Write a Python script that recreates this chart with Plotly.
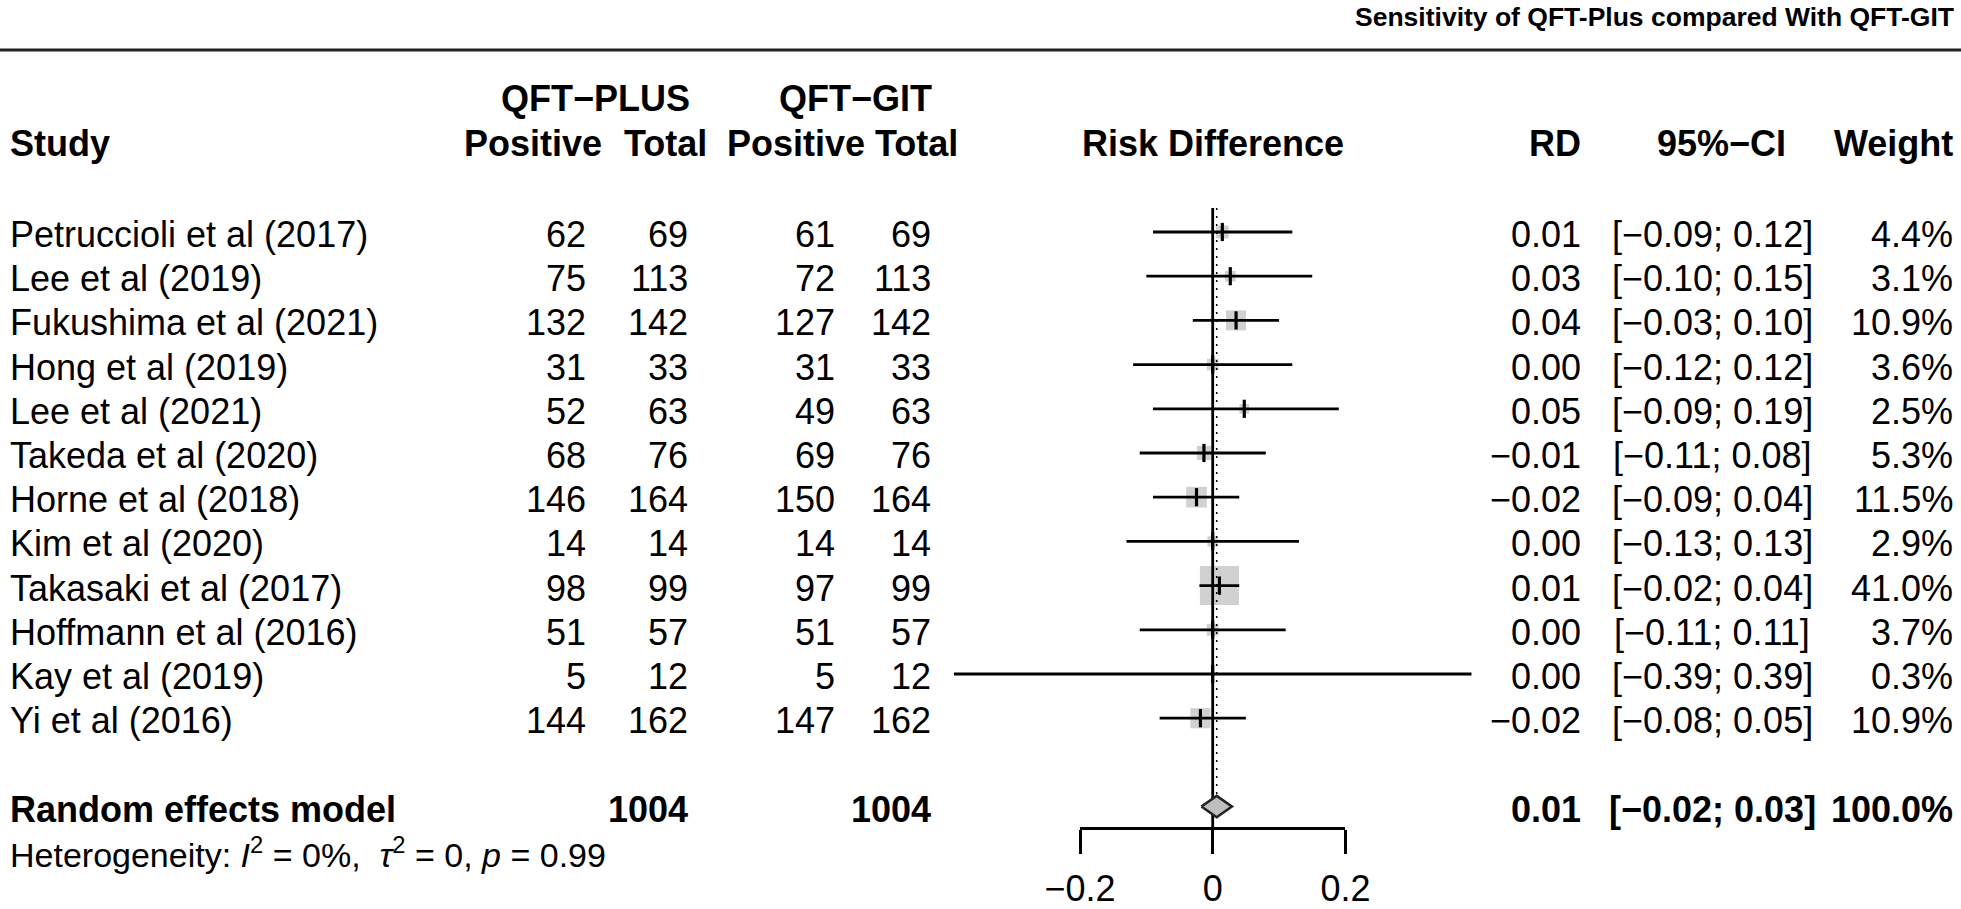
import math
import plotly.graph_objects as go

# ---------------- data ----------------
studies = ["Petruccioli et al (2017)", "Lee et al (2019)", "Fukushima et al (2021)",
           "Hong et al (2019)", "Lee et al (2021)", "Takeda et al (2020)",
           "Horne et al (2018)", "Kim et al (2020)", "Takasaki et al (2017)",
           "Hoffmann et al (2016)", "Kay et al (2019)", "Yi et al (2016)"]
plus_pos = [62, 75, 132, 31, 52, 68, 146, 14, 98, 51, 5, 144]
plus_tot = [69, 113, 142, 33, 63, 76, 164, 14, 99, 57, 12, 162]
git_pos = [61, 72, 127, 31, 49, 69, 150, 14, 97, 51, 5, 147]
git_tot = [69, 113, 142, 33, 63, 76, 164, 14, 99, 57, 12, 162]
rd = [0.0145, 0.0265, 0.0352, 0.0, 0.0476, -0.0132, -0.0244, 0.0, 0.0101, 0.0, 0.0, -0.0185]
ci_lo = [-0.09, -0.10, -0.03, -0.12, -0.09, -0.11, -0.09, -0.13, -0.02, -0.11, -0.39, -0.08]
ci_hi = [0.12, 0.15, 0.10, 0.12, 0.19, 0.08, 0.04, 0.13, 0.04, 0.11, 0.39, 0.05]
weights = [4.4, 3.1, 10.9, 3.6, 2.5, 5.3, 11.5, 2.9, 41.0, 3.7, 0.3, 10.9]

summary_label = "Random effects model"
summary_plus_tot = 1004
summary_git_tot = 1004
summary_rd = 0.006
summary_lo = -0.017
summary_hi = 0.029
summary_weight = 100.0

tick_vals = [-0.2, 0, 0.2]
tick_text = ["\u22120.2", "0", "0.2"]

title_text = "Sensitivity of QFT-Plus compared With QFT-GIT"
het_text = ("Heterogeneity: <i>I</i><sup>2</sup> = 0%,  <i>\u03c4</i><sup>2</sup> = 0, "
            "<i>p</i> = 0.99")

# ---------------- layout helpers ----------------
W, H = 1961, 909
FONT = "Liberation Sans, Arial, Helvetica, sans-serif"
FS = 36
ROW0_PX, ROW_PX = 232.0, 44.2
ZERO_PX, PX_PER_UNIT = 1212.7, 663.5
GRAY = "#BEBEBE"


def ypx(px):
    return (px - ROW0_PX) / ROW_PX


def xp(px):
    return px / W


def dom(lo, hi):
    return [xp(ZERO_PX + lo * PX_PER_UNIT), xp(ZERO_PX + hi * PX_PER_UNIT)]


def num(v, fmt="{:.2f}"):
    return fmt.format(v).replace("-", "\u2212")


n = len(studies)
rows = list(range(n))
sum_row = n + 1

annotations = []
TXT_DY = 2.5 / ROW_PX  # text sits slightly below the row line in the reference


def txt(x_px, y, s, anchor, bold=False, size=FS):
    annotations.append(dict(
        x=xp(x_px), xref="paper", y=y, yref="y",
        text=f"<b>{s}</b>" if bold else s, showarrow=False,
        xanchor=anchor, yanchor="middle",
        font=dict(family=FONT, size=size, color="black")))


# column positions (pixels)
X_STUDY, X_PPOS, X_PTOT, X_GPOS, X_GTOT = 8, 588, 690, 837, 933
X_RD, X_CI, X_W = 1583, 1712, 1955

# headers
Y_H1, Y_H2 = ypx(98), ypx(143)
txt(1956, ypx(17), title_text, "right", bold=True, size=26.5)
txt(X_STUDY, Y_H2, "Study", "left", bold=True)
txt(595, Y_H1, "QFT\u2212PLUS", "center", bold=True)
txt(855, Y_H1, "QFT\u2212GIT", "center", bold=True)
txt(604, Y_H2, "Positive", "right", bold=True)
txt(709, Y_H2, "Total", "right", bold=True)
txt(867, Y_H2, "Positive", "right", bold=True)
txt(960, Y_H2, "Total", "right", bold=True)
txt(ZERO_PX, Y_H2, "Risk Difference", "center", bold=True)
txt(X_RD, Y_H2, "RD", "right", bold=True)
txt(1721, Y_H2, "95%\u2212CI", "center", bold=True)
txt(X_W, Y_H2, "Weight", "right", bold=True)

# study rows
for i in rows:
    y = i + TXT_DY
    txt(X_STUDY, y, studies[i], "left")
    txt(X_PPOS, y, str(plus_pos[i]), "right")
    txt(X_PTOT, y, str(plus_tot[i]), "right")
    txt(X_GPOS, y, str(git_pos[i]), "right")
    txt(X_GTOT, y, str(git_tot[i]), "right")
    txt(X_RD, y, num(rd[i]), "right")
    txt(X_CI, y, f"[{num(ci_lo[i])}; {num(ci_hi[i])}]", "center")
    txt(X_W, y, num(weights[i], "{:.1f}") + "%", "right")

# summary row
ys = sum_row + TXT_DY
txt(X_STUDY, ys, summary_label, "left", bold=True)
txt(X_PTOT, ys, str(summary_plus_tot), "right", bold=True)
txt(X_GTOT, ys, str(summary_git_tot), "right", bold=True)
txt(X_RD, ys, num(summary_rd), "right", bold=True)
txt(X_CI, ys, f"[{num(summary_lo)}; {num(summary_hi)}]", "center", bold=True)
txt(X_W, ys, num(summary_weight, "{:.1f}") + "%", "right", bold=True)
txt(X_STUDY, ypx(852), het_text, "left", size=34)

# ---------------- traces ----------------
fig = go.Figure()

sq_sizes = [39.0 * math.sqrt(w / max(weights)) for w in weights]
fig.add_trace(go.Scatter(
    x=rd, y=rows, mode="markers", cliponaxis=False,
    marker=dict(symbol="square", size=sq_sizes, color=GRAY, line=dict(width=0)),
    showlegend=False, hoverinfo="skip"))

ci_x, ci_y = [], []
for i in rows:
    ci_x += [ci_lo[i], ci_hi[i], None]
    ci_y += [i, i, None]
fig.add_trace(go.Scatter(
    x=ci_x, y=ci_y, mode="lines", line=dict(color="black", width=2.8),
    showlegend=False, hoverinfo="skip", cliponaxis=False))

fig.add_trace(go.Scatter(
    x=rd, y=rows, mode="markers", cliponaxis=False,
    marker=dict(symbol="line-ns", size=13, line=dict(width=3.2, color="black")),
    showlegend=False, hoverinfo="skip"))

AXIS_Y = ypx(828)
TOP_Y = ypx(208)
dh = 10.7 / ROW_PX

# zero (no effect) line
fig.add_trace(go.Scatter(
    x=[0, 0], y=[TOP_Y, AXIS_Y], mode="lines",
    line=dict(color="black", width=2.8), showlegend=False, hoverinfo="skip"))

# dotted line at summary estimate
fig.add_trace(go.Scatter(
    x=[summary_rd, summary_rd], y=[TOP_Y, sum_row - dh], mode="lines",
    line=dict(color="black", width=1.5, dash="2px,6px"),
    showlegend=False, hoverinfo="skip"))

# summary diamond
fig.add_trace(go.Scatter(
    x=[summary_lo, summary_rd, summary_hi, summary_rd, summary_lo],
    y=[sum_row, sum_row - dh, sum_row, sum_row + dh, sum_row],
    mode="lines", fill="toself", fillcolor=GRAY,
    line=dict(color="#222222", width=2.5),
    showlegend=False, hoverinfo="skip"))

# helper trace for the drawn x axis
fig.add_trace(go.Scatter(
    x=tick_vals, y=[None] * len(tick_vals), xaxis="x2", yaxis="y",
    mode="markers", showlegend=False, hoverinfo="skip"))

fig.update_layout(
    width=W, height=H, autosize=False,
    margin=dict(l=0, r=0, t=0, b=0, pad=0, autoexpand=False),
    paper_bgcolor="white", plot_bgcolor="rgba(0,0,0,0)",
    showlegend=False,
    xaxis=dict(domain=dom(-0.4, 0.4), range=[-0.4, 0.4], visible=False,
               fixedrange=True),
    xaxis2=dict(domain=dom(-0.2, 0.2), range=[-0.2, 0.2], anchor="free",
                position=1 - 828 / H, showline=True, linewidth=2.8,
                linecolor="black", ticks="outside", ticklen=24, tickwidth=2.8,
                tickcolor="black", tickvals=tick_vals, ticktext=tick_text,
                ticklabelstandoff=4,
                tickfont=dict(family=FONT, size=FS, color="black"),
                showgrid=False, zeroline=False, fixedrange=True),
    yaxis=dict(domain=[0, 1], range=[ypx(H), ypx(0)], visible=False,
               fixedrange=True),
    annotations=annotations,
    shapes=[dict(type="line", xref="paper", yref="y", x0=0, x1=1,
                 y0=ypx(50), y1=ypx(50), line=dict(color="#222222", width=3))],
)

fig.write_html(
    "out.html",
    config={"displayModeBar": False},
    post_script="document.body.style.margin='0';"
                "document.body.style.overflow='hidden';")
